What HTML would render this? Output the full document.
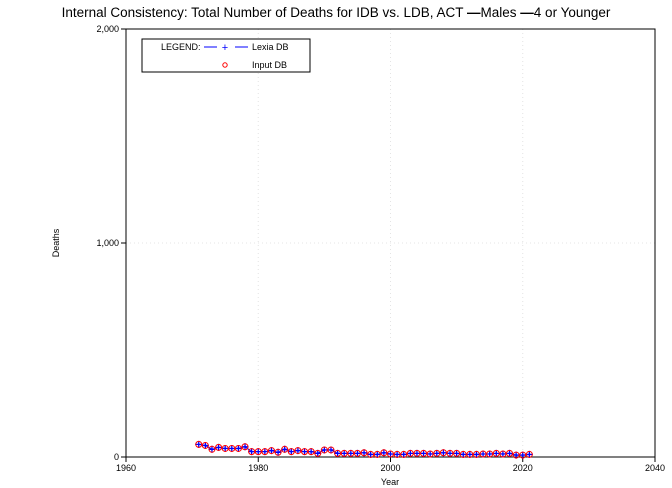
<!DOCTYPE html>
<html><head><meta charset="utf-8"><style>
html,body{margin:0;padding:0;background:#fff;}
svg{display:block;font-family:"Liberation Sans",sans-serif;}
</style></head><body>
<svg id="chart" width="672" height="488" viewBox="0 0 672 488">
<text x="336" y="17" text-anchor="middle" font-size="13.5">Internal Consistency: Total Number of Deaths for IDB vs. LDB, ACT <tspan font-weight="bold">—</tspan>Males <tspan font-weight="bold">—</tspan>4 or Younger</text>
<g id="grid"></g>
<rect x="126" y="29" width="529" height="428" fill="none" stroke="#000" stroke-width="1"/>
<g id="axes" font-size="9"></g>
<text x="390" y="485" text-anchor="middle" font-size="9">Year</text>
<text x="59" y="243" text-anchor="middle" font-size="9" transform="rotate(-90 59 243)">Deaths</text>
<g id="marks"></g>
<g>
<rect x="142" y="39" width="168" height="33" fill="#fff" stroke="#000" stroke-width="1"/>
<text x="161" y="50" font-size="9">LEGEND:</text>
<line x1="204" y1="47" x2="217" y2="47" stroke="#0000ff"/>
<text x="225" y="51" font-size="11" fill="#0000ff" text-anchor="middle">+</text>
<line x1="235" y1="47" x2="248" y2="47" stroke="#0000ff"/>
<text x="252" y="50" font-size="9">Lexia DB</text>
<circle cx="225" cy="65" r="2.2" fill="none" stroke="#ff0000"/>
<text x="252" y="68" font-size="9">Input DB</text>
</g>
</svg>
<script>
const years=[];for(let y=1971;y<=2021;y++)years.push(y);
const lexiaDeaths=[59,54,36,45,40,40,40,48,25,25,25,30,22,36,25,30,25,25,17,33,33,17,17,17,17,20,12,12,20,14,12,12,17,17,17,14,17,20,17,17,12,12,12,14,14,17,14,17,9,9,12];
const inputDeaths=lexiaDeaths.slice();
const xTicks=[1960,1980,2000,2020,2040];
const yTicks=[0,1000,2000];
const yTickLabels=["0","1,000","2,000"];
const NS="http://www.w3.org/2000/svg";
const X=v=>126+(v-1960)/80*529;
const Y=v=>457-v/2000*428;
function mk(tag,attrs,parent){const e=document.createElementNS(NS,tag);for(const k in attrs)e.setAttribute(k,attrs[k]);parent.appendChild(e);return e;}
const grid=document.getElementById('grid'),axes=document.getElementById('axes'),marks=document.getElementById('marks');
xTicks.forEach(t=>{
 if(t>1960&&t<2040){const g=mk('line',{x1:X(t),x2:X(t),y1:29,y2:457,stroke:'#e4e4e4','stroke-dasharray':'1,3'},grid);
 
 }
 const l=mk('line',{x1:X(t),x2:X(t),y1:457,y2:462,stroke:'#000'},axes);
 
 
 const tx=mk('text',{x:X(t),y:471,'text-anchor':'middle'},axes);tx.textContent=t;
 
 
});
yTicks.forEach((t,i)=>{
 if(t>0&&t<2000){const g=mk('line',{x1:126,x2:655,y1:Y(t),y2:Y(t),stroke:'#e4e4e4','stroke-dasharray':'1,3'},grid);
 
 }
 const l=mk('line',{x1:121,x2:126,y1:Y(t),y2:Y(t),stroke:'#000'},axes);
 
 
 const tx=mk('text',{x:119,y:Y(t)+3,'text-anchor':'end'},axes);tx.textContent=yTickLabels[i];
 
 
});
let pts=years.map((y,i)=>X(y)+','+Y(lexiaDeaths[i])).join(' ');
const pl=mk('polyline',{points:pts,fill:'none',stroke:'#0000ff','stroke-width':1},marks);


years.forEach((y,i)=>{
 const cx=X(y),cy=Y(lexiaDeaths[i]);
 const p=mk('path',{d:`M${cx-3.5},${cy}H${cx+3.5}M${cx},${cy-3.5}V${cy+3.5}`,stroke:'#0000ff','stroke-width':1.3},marks);
 
 
});
years.forEach((y,i)=>{
 const c=mk('circle',{cx:X(y),cy:Y(inputDeaths[i]),r:3,fill:'none',stroke:'#ff0000','stroke-width':1},marks);
 
 
});
</script>
</body></html>
